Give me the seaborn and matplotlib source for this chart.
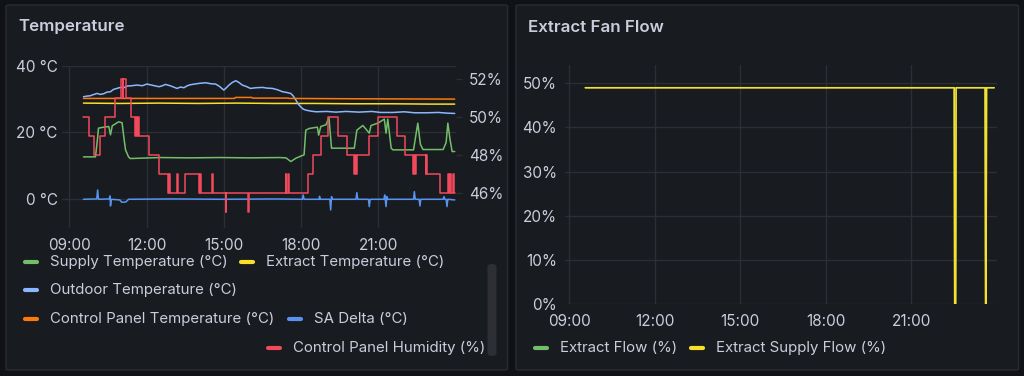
# Panel "Temperature" + "Extract Fan Flow" (estilo Grafana oscuro)
import pandas as pd
import matplotlib.pyplot as plt
import matplotlib.dates as mdates
from matplotlib.lines import Line2D
from matplotlib.patches import FancyBboxPatch
import seaborn as sns

# ---- datos ----
sup_t = ["09:33", "10:01", "10:06", "10:08", "10:16", "10:32", "10:36", "10:40", "10:55", "11:03",
         "11:07", "11:11", "11:18", "11:22", "12:30", "13:40", "14:50", "16:00", "17:10", "17:25",
         "17:36", "17:48", "17:59", "18:07", "18:11", "18:19", "18:38", "18:41", "18:46", "18:58",
         "19:05", "19:11", "20:04", "20:10", "20:24", "20:39", "20:43", "20:59", "21:14", "21:18",
         "21:22", "21:30", "21:34", "22:22", "22:26", "22:32", "22:38", "22:44", "23:31", "23:38",
         "23:42", "23:47", "23:52", "23:58"]
sup_v = [12.7, 12.7, 18.5, 21.3, 21.5, 21.8, 19.3, 22.0, 23.2, 22.9,
         18.7, 14.8, 12.7, 12.2, 12.5, 12.4, 12.5, 12.4, 12.5, 12.4,
         11.3, 12.3, 12.9, 13.3, 20.7, 21.2, 21.6, 19.2, 21.8, 22.3,
         24.5, 15.3, 15.3, 20.7, 22.1, 19.8, 22.1, 22.8, 24.0, 19.8,
         24.0, 15.3, 14.8, 14.8, 18.0, 22.8, 16.5, 14.9, 14.9, 17.0,
         22.8, 18.0, 14.3, 14.3]

ext_t = ["09:33", "11:00", "12:30", "14:00", "15:30", "17:00", "18:30", "20:00", "21:30", "23:00", "23:58"]
ext_v = [28.8, 28.7, 28.8, 28.7, 28.8, 28.7, 28.7, 28.6, 28.6, 28.5, 28.5]

out_t = ["09:33", "09:41", "09:49", "09:55", "10:05", "10:12", "10:20", "10:28", "10:36", "10:43",
         "10:51", "10:59", "11:07", "11:15", "11:25", "11:38", "11:50", "12:01", "12:15", "12:29",
         "12:37", "12:44", "12:55", "13:03", "13:11", "13:19", "13:27", "13:35", "13:42", "13:52",
         "14:02", "14:10", "14:17", "14:30", "14:41", "14:50", "15:00", "15:06", "15:12", "15:20",
         "15:28", "15:35", "15:43", "15:52", "16:02", "16:15", "16:30", "16:40", "16:53", "17:05",
         "17:17", "17:26", "17:36", "17:42", "17:48", "17:53", "17:59", "18:05", "18:11", "18:23",
         "18:35", "19:00", "19:21", "19:45", "20:15", "20:45", "21:05", "21:34", "22:00", "22:25",
         "22:52", "23:20", "23:40", "23:58"]
out_v = [30.7, 30.9, 31.0, 31.3, 31.7, 31.4, 31.6, 32.1, 32.2, 32.9,
         33.2, 33.5, 33.4, 33.9, 34.0, 34.2, 34.0, 34.5, 34.1, 33.7,
         34.0, 34.4, 34.0, 33.6, 33.2, 33.6, 33.4, 34.0, 34.3, 34.5,
         34.7, 34.8, 34.9, 34.6, 34.5, 33.8, 32.7, 33.4, 34.2, 35.0,
         35.5, 35.0, 34.2, 33.8, 33.2, 33.4, 33.5, 33.3, 33.2, 32.8,
         32.2, 32.0, 31.7, 30.9, 29.7, 28.6, 27.7, 27.0, 26.7, 26.4,
         26.2, 26.3, 26.1, 26.3, 26.1, 26.3, 26.0, 26.0, 26.2, 25.9,
         25.9, 26.0, 25.8, 25.7]

cpt_t = ["09:33", "15:25", "15:27", "16:05", "16:07", "17:30", "17:32", "20:00", "23:58"]
cpt_v = [30.2, 30.2, 30.5, 30.5, 30.3, 30.3, 30.2, 30.1, 30.0]

sad_t = ["09:33", "10:04", "10:06", "10:08", "10:33", "10:35", "10:36", "10:38", "10:58", "11:02",
         "11:12", "11:18", "13:00", "15:00", "17:00", "18:03", "18:05", "18:07", "18:42", "18:43",
         "18:45", "19:07", "19:09", "19:11", "19:13", "20:08", "20:10", "20:12", "20:37", "20:39",
         "20:41", "21:13", "21:15", "21:18", "21:20", "21:22", "22:22", "22:24", "22:26", "22:35",
         "22:37", "22:39", "23:31", "23:33", "23:35", "23:38", "23:40", "23:42", "23:58"]
sad_v = [0.0, 0.1, 2.8, 0.0, 0.1, 1.0, -2.0, 0.0, -0.2, -0.9,
         -0.8, 0.0, 0.1, 0.0, 0.1, 0.0, 1.3, 0.0, 0.0, 0.9,
         0.0, 0.0, -3.2, 0.8, 0.0, 0.0, 2.0, 0.0, 0.0, -2.2,
         0.0, 0.0, 1.3, -2.2, 0.8, 0.0, 0.0, 2.3, 0.0, 0.0,
         -2.0, 0.0, 0.0, 0.8, 0.0, 0.0, -2.2, 0.0, -0.2]

hum_t = ["09:33", "09:45", "09:57", "10:11", "10:24", "10:47", "11:01", "11:04", "11:06", "11:11",
         "11:24", "11:33", "11:35", "11:38", "11:40", "11:43", "12:05", "12:30", "12:50", "12:53",
         "12:55", "13:11", "13:13", "13:29", "14:02", "14:04", "14:06", "14:32", "14:34", "15:04",
         "15:06", "15:57", "15:59", "17:24", "17:26", "17:29", "17:32", "18:17", "18:28", "18:46",
         "19:02", "19:26", "19:46", "20:03", "20:05", "20:08", "20:11", "20:38", "21:00", "21:43",
         "22:02", "22:20", "22:22", "22:25", "22:27", "22:50", "22:52", "22:54", "22:58", "23:24",
         "23:42", "23:44", "23:48", "23:50", "23:54", "23:56", "23:58"]
hum_v = [50, 49, 48, 49, 50, 51, 52, 51, 52, 51,
         50, 49, 50, 49, 50, 49, 48, 47, 46, 47,
         46, 47, 46, 47, 46, 47, 46, 47, 46, 45,
         46, 45, 46, 47, 46, 47, 46, 47, 48, 49,
         50, 49, 48, 47, 48, 47, 48, 49, 50, 49,
         48, 47, 48, 47, 48, 47, 48, 47, 47, 46,
         47, 46, 47, 46, 47, 46, 46]

flow_t = ["09:34", "22:30", "22:31", "22:33", "22:34", "23:35", "23:36", "23:37", "23:38", "23:54"]
extract_flow = [49, 49, 0, 0, 49, 49, 0, 0, 49, 49]
extract_supply_flow = [49, 49, 0, 0, 49, 49, 0, 0, 49, 49]

temp_ticks = [0, 20, 40]
hum_ticks = [46, 48, 50, 52]
flow_ticks = [0, 10, 20, 30, 40, 50]

# ---- colores ----
BG = "#111217"
PANEL = "#181b1f"
BORDER = "#2a2c32"
GRID = "#2b2e34"
TXT = "#ccccdc"
C_GREEN = "#73bf69"
C_YELLOW = "#fade2a"
C_LBLUE = "#8ab8ff"
C_ORANGE = "#ff780a"
C_BLUE = "#5794f2"
C_RED = "#f2495c"

FS_TICK = 11
FS_LEG = 10.8
FS_TITLE = 12.2

sns.set_theme(style="dark")
plt.rcParams["font.family"] = ["Inter", "DejaVu Sans"]
plt.rcParams["text.color"] = TXT

W, H = 1024, 376
DAY = "2024-01-01 "


def to_dt(times):
    return pd.to_datetime([DAY + t for t in times])


def hhmm(t):
    return pd.Timestamp(DAY + t)


def fx(x):
    return x / W


def fy(y):
    return 1 - y / H


def style_axis(ax):
    ax.set_facecolor(PANEL)
    for s in ax.spines.values():
        s.set_visible(False)
    ax.xaxis.set_major_locator(mdates.HourLocator(byhour=[9, 12, 15, 18, 21]))
    ax.xaxis.set_major_formatter(mdates.DateFormatter("%H:%M"))
    ax.grid(True, color=GRID, lw=1)


fig = plt.figure(figsize=(W / 100, H / 100), dpi=100, facecolor=BG)

# paneles de fondo
for x0, x1 in [(6, 507.5), (516, 1018.5)]:
    fig.add_artist(FancyBboxPatch((fx(x0), fy(370)), fx(x1 - x0), (370 - 5) / H,
                                  boxstyle="round,pad=0,rounding_size=0.003",
                                  transform=fig.transFigure, fc=PANEL, ec=BORDER, lw=1, zorder=0))

fig.text(fx(18), fy(31.5), "Temperature", fontsize=FS_TITLE, fontweight="semibold", color=TXT, va="baseline")
fig.text(fx(528), fy(31.5), "Extract Fan Flow", fontsize=FS_TITLE, fontweight="semibold", color=TXT, va="baseline")

# ---- panel Temperature ----
ax = fig.add_axes([fx(62), fy(228), fx(456 - 62), (228 - 65.7) / H])
style_axis(ax)

series = [
    (sup_t, sup_v, C_GREEN),
    (ext_t, ext_v, C_YELLOW),
    (out_t, out_v, C_LBLUE),
    (cpt_t, cpt_v, C_ORANGE),
    (sad_t, sad_v, C_BLUE),
]
for t, v, c in series:
    df = pd.DataFrame({"time": to_dt(t), "value": v})
    sns.lineplot(data=df, x="time", y="value", ax=ax, color=c, lw=1.1, estimator=None)

ax.set_xlim(hhmm("08:43"), hhmm("23:59") + pd.Timedelta(minutes=2))
ax.set_ylim(-8.6, 40)
ax.set_yticks(temp_ticks)
ax.set_yticklabels([f"{v} °C" for v in temp_ticks])
ax.tick_params(axis="y", length=0, pad=3, labelsize=FS_TICK, labelcolor=TXT)
ax.tick_params(axis="x", length=3, width=1, color=GRID, pad=4, labelsize=FS_TICK, labelcolor=TXT)
ax.set_xlabel("")
ax.set_ylabel("")

ax2 = ax.twinx()
df = pd.DataFrame({"time": to_dt(hum_t), "value": hum_v})
sns.lineplot(data=df, x="time", y="value", ax=ax2, color=C_RED, lw=1.1, estimator=None,
             drawstyle="steps-post")
for s in ax2.spines.values():
    s.set_visible(False)
ax2.set_ylim(44.18, 52.7)
ax2.set_yticks(hum_ticks)
ax2.set_yticklabels([f"{v}%" for v in hum_ticks])
ax2.tick_params(axis="y", length=4, width=1, color=GRID, pad=5.5, labelsize=FS_TICK, labelcolor=TXT)
ax2.grid(False)
ax2.set_ylabel("")
ax2.set_xlabel("")


# leyenda manual (filas como en Grafana)
def legend_item(x, y, color, label):
    fig.add_artist(Line2D([fx(x + 2), fx(x + 14)], [fy(y), fy(y)], transform=fig.transFigure,
                          color=color, lw=3, solid_capstyle="round"))
    fig.text(fx(x + 27), fy(y), label, fontsize=FS_LEG, color=TXT, va="center")


legend_item(23, 261.7, C_GREEN, "Supply Temperature (°C)")
legend_item(239, 261.7, C_YELLOW, "Extract Temperature (°C)")
legend_item(23, 290, C_LBLUE, "Outdoor Temperature (°C)")
legend_item(23, 319.3, C_ORANGE, "Control Panel Temperature (°C)")
legend_item(287, 319.3, C_BLUE, "SA Delta (°C)")
legend_item(266, 347.7, C_RED, "Control Panel Humidity (%)")

# barra de scroll
fig.add_artist(FancyBboxPatch((fx(487.5), fy(356.5)), fx(9), (356.5 - 263.5) / H,
                              boxstyle="round,pad=0,rounding_size=0.008",
                              transform=fig.transFigure, fc="#2d2f35", ec="none"))

# ---- panel Extract Fan Flow ----
bx = fig.add_axes([fx(565.3), fy(304), fx(997 - 565.3), (304 - 65) / H])
style_axis(bx)
df = pd.DataFrame({"time": to_dt(flow_t), "value": extract_flow})
sns.lineplot(data=df, x="time", y="value", ax=bx, color=C_GREEN, lw=1.1, estimator=None)
df = pd.DataFrame({"time": to_dt(flow_t), "value": extract_supply_flow})
sns.lineplot(data=df, x="time", y="value", ax=bx, color=C_YELLOW, lw=1.1, estimator=None)
bx.set_xlim(hhmm("08:52"), hhmm("23:59") + pd.Timedelta(minutes=1))
bx.set_ylim(0, 54.15)
bx.set_yticks(flow_ticks)
bx.set_yticklabels([f"{v}%" for v in flow_ticks])
bx.tick_params(axis="y", length=0, pad=6, labelsize=FS_TICK, labelcolor=TXT)
bx.tick_params(axis="x", length=3, width=1, color=GRID, pad=4.5, labelsize=FS_TICK, labelcolor=TXT)
bx.set_xlabel("")
bx.set_ylabel("")

legend_item(533, 348.3, C_GREEN, "Extract Flow (%)")
legend_item(689, 348.3, C_YELLOW, "Extract Supply Flow (%)")

fig.savefig("out.png", dpi=100, facecolor=BG)
